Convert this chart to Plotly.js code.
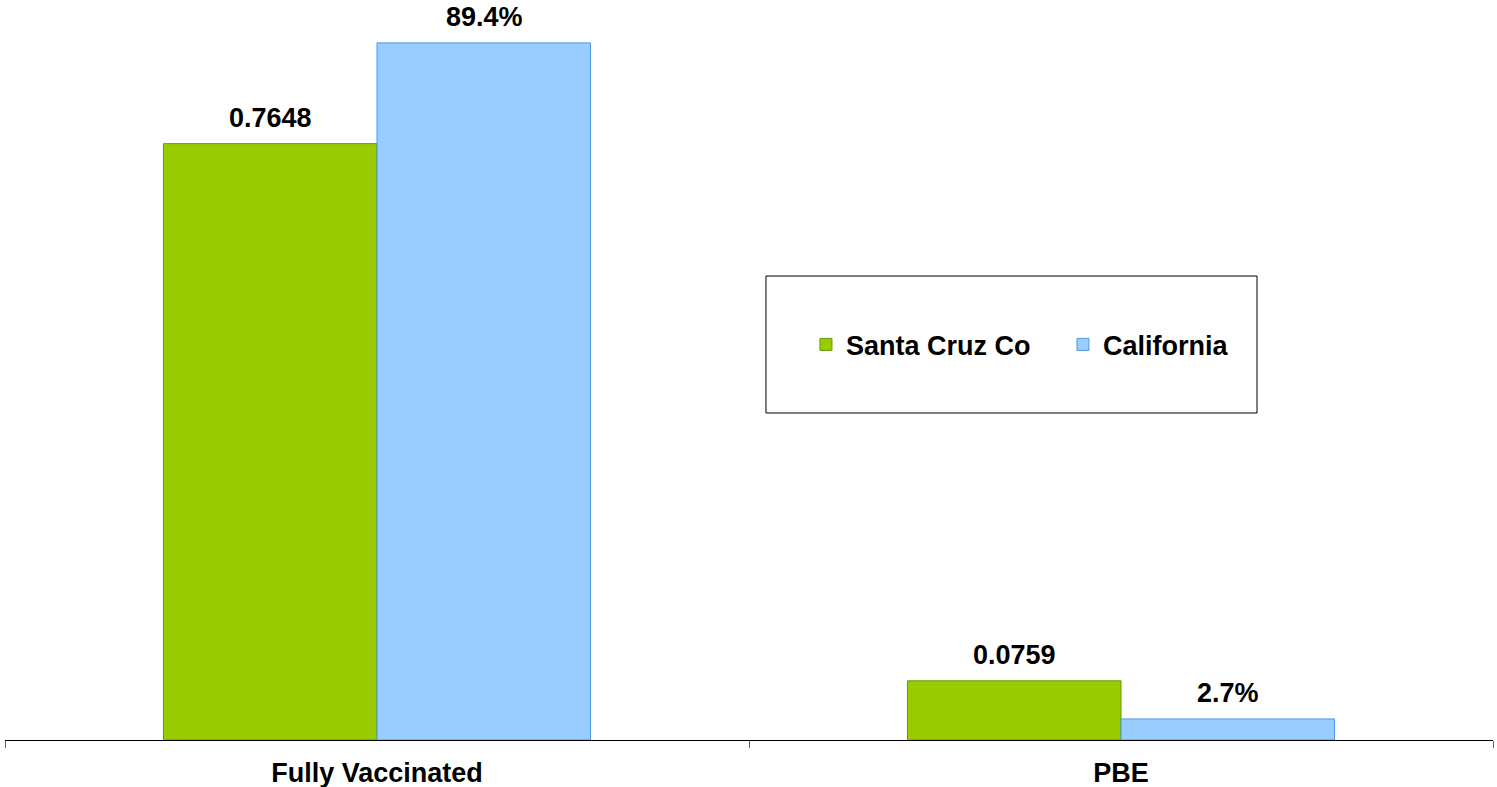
<!DOCTYPE html>
<html>
<head>
<meta charset="utf-8">
<script src="https://cdn.plot.ly/plotly-3.0.1.min.js"></script>
<style>
  html, body { margin: 0; padding: 0; background: #fff; }
  #chart { width: 1497px; height: 787px; }
</style>
</head>
<body>
<div id="chart"></div>
<script>
const categories = ['Fully Vaccinated', 'PBE'];
const seriesNames = ['Santa Cruz Co', 'California'];
const santaCruz = [0.7648, 0.0759];
const california = [0.894, 0.027];
const santaCruzLabels = ['0.7648', '0.0759'];
const californiaLabels = ['89.4%', '2.7%'];

const FONT = 'Liberation Sans, Arial, sans-serif';
const boldFont = { family: FONT, size: 27, color: '#000', weight: 'bold' };

const traces = [
  {
    name: seriesNames[0], x: categories, y: santaCruz, type: 'bar',
    marker: { color: '#99cc00', line: { color: '#5f9e00', width: 1 } },
    hoverinfo: 'skip',
  },
  {
    name: seriesNames[1], x: categories, y: california, type: 'bar',
    marker: { color: '#99ccff', line: { color: '#4a98e4', width: 1 } },
    hoverinfo: 'skip',
  },
];

// value labels above each bar
const annotations = [];
categories.forEach((c, i) => {
  annotations.push({ x: c, y: santaCruz[i], text: santaCruzLabels[i], xref: 'x', yref: 'y',
    showarrow: false, xshift: -107, yshift: 9, yanchor: 'bottom', font: boldFont });
  annotations.push({ x: c, y: california[i], text: californiaLabels[i], xref: 'x', yref: 'y',
    showarrow: false, xshift: 107, yshift: 9, yanchor: 'bottom', font: boldFont });
});

const layout = {
  width: 1497, height: 787,
  margin: { l: 5, r: 4, t: 0, b: 47 },
  paper_bgcolor: '#fff', plot_bgcolor: '#fff',
  font: boldFont,
  barmode: 'group',
  bargap: 0.426, bargroupgap: 0,
  showlegend: true,
  legend: {
    orientation: 'h', x: 0.711, y: 0.534, xanchor: 'center', yanchor: 'middle',
    bgcolor: 'rgba(0,0,0,0)', borderwidth: 0,
    font: boldFont,
    entrywidth: 212, entrywidthmode: 'pixels',
  },
  shapes: [{
    type: 'rect', xref: 'paper', yref: 'paper',
    x0: 0.5114, x1: 0.8414, y0: 0.4419, y1: 0.627,
    line: { color: '#000', width: 1 }, fillcolor: 'rgba(0,0,0,0)', layer: 'below',
  }],
  annotations: annotations,
  xaxis: {
    showline: true, linecolor: '#000', linewidth: 1,
    ticks: 'outside', tickson: 'boundaries', ticklen: 7, tickcolor: '#666', tickwidth: 1,
    ticklabelstandoff: 9,
    tickfont: boldFont,
    showgrid: false, zeroline: false,
  },
  yaxis: { visible: false, range: [0, 0.949], showgrid: false, zeroline: false },
};

Plotly.newPlot('chart', traces, layout, { displayModeBar: false, staticPlot: true });
</script>
</body>
</html>
